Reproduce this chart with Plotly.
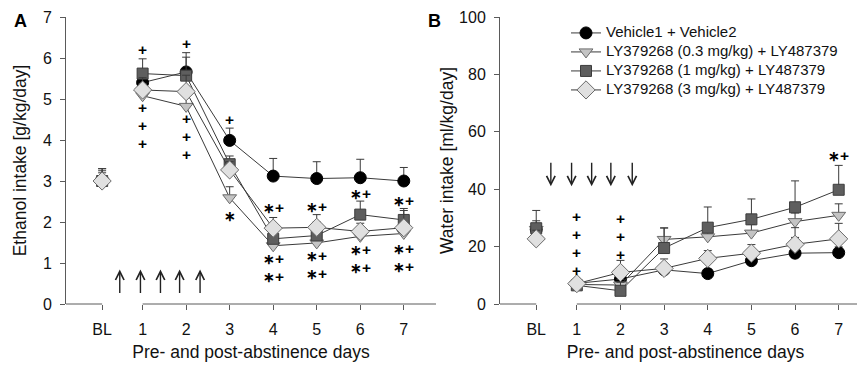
import plotly.graph_objects as go

# ---------------- data ----------------
day_labels = ["BL", "1", "2", "3", "4", "5", "6", "7"]
series_names = ["Vehicle1 + Vehicle2",
                "LY379268 (0.3 mg/kg) + LY487379",
                "LY379268 (1 mg/kg) + LY487379",
                "LY379268 (3 mg/kg) + LY487379"]

# Panel A: ethanol intake [g/kg/day] (BL, days 1-7)
eth_veh = [3.00, 5.40, 5.66, 3.99, 3.12, 3.06, 3.08, 3.00]
eth_low = [3.00, 5.08, 4.82, 2.59, 1.42, 1.49, 1.65, 1.72]
eth_mid = [3.00, 5.62, 5.57, 3.41, 1.59, 1.67, 2.18, 2.05]
eth_high = [3.00, 5.22, 5.18, 3.27, 1.85, 1.87, 1.77, 1.86]
eth_veh_sem = [0.30, 0.30, 0.47, 0.30, 0.43, 0.41, 0.45, 0.33]
eth_low_sem = [0.30, 0.30, 0.30, 0.27, 0.20, 0.20, 0.20, 0.20]
eth_mid_sem = [0.25, 0.36, 0.45, 0.20, 0.30, 0.33, 0.33, 0.28]
eth_high_sem = [0.20, 0.30, 0.40, 0.20, 0.26, 0.31, 0.20, 0.42]

# Panel B: water intake [ml/kg/day]
wat_veh = [26.0, 7.2, 8.7, 11.9, 10.6, 15.1, 17.7, 17.9]
wat_low = [26.0, 6.8, 6.6, 22.5, 23.4, 24.7, 28.7, 30.9]
wat_mid = [26.4, 6.5, 4.6, 19.5, 26.6, 29.5, 33.7, 39.8]
wat_high = [22.7, 7.1, 11.0, 12.4, 15.9, 17.7, 20.8, 22.7]
wat_veh_sem = [2.0, 1.0, 3.0, 2.0, 1.5, 2.0, 5.5, 2.0]
wat_low_sem = [3.0, 1.0, 2.0, 4.0, 3.0, 3.0, 3.0, 4.0]
wat_mid_sem = [6.2, 1.0, 3.0, 7.0, 7.2, 7.1, 9.2, 8.5]
wat_high_sem = [3.0, 1.0, 4.2, 3.3, 2.7, 3.0, 5.8, 5.4]

# significance marks: day, y values of a vertical stack, mark text
sig_a_days = [1, 1, 2, 2, 3, 3, 4, 4, 5, 5, 6, 6, 7, 7]
sig_a_vals = [[6.20], [4.69, 4.34, 4.03], [6.36], [4.40, 4.08, 3.75], [4.50], [2.14],
              [2.35], [1.08, 0.72], [2.38], [1.14, 0.78], [2.70], [1.28, 0.92],
              [2.53], [1.33, 0.96]]
sig_a_text = ["+", "+", "+", "+", "+", "*", "*+", "*+", "*+", "*+", "*+", "*+", "*+", "*+"]
sig_b_days = [1, 2, 7]
sig_b_vals = [[28.1, 23.5, 18.8, 14.0], [28.1, 23.5, 18.8], [51.6]]
sig_b_text = ["+", "+", "*+"]

# injection arrows (positions along the day axis)
arrows_a = [0.475, 0.95, 1.41, 1.85, 2.32]
arrows_b = [0.405, 0.88, 1.34, 1.78, 2.27]

# ---------------- style ----------------
FONT = "Liberation Sans, Arial, sans-serif"
AXC = "#5a5a5a"
LINEC = "#3a3a3a"
BL_POS = 0.07
XRANGE = [-0.76, 7.74]
xpos = [BL_POS] + [int(d) for d in day_labels[1:]]

styles = [
    dict(symbol="circle", size=12, color="#000000", line=dict(color="#000000", width=1)),
    dict(symbol="triangle-down", size=12, color="#c4c4c4", line=dict(color="#6a6a6a", width=1)),
    dict(symbol="square", size=11, color="#5e5e5e", line=dict(color="#3c3c3c", width=1)),
    dict(symbol="diamond", size=14, color="#e0e0e0", line=dict(color="#6a6a6a", width=1)),
]

fig = go.Figure()


def add_panel(vals_list, sem_list, xa, ya, legend):
    for i, (vals, sem) in enumerate(zip(vals_list, sem_list)):
        eb = dict(type="data", symmetric=False, color=LINEC, thickness=1, width=4)
        # baseline point (not connected)
        fig.add_trace(go.Scatter(
            x=[xpos[0]], y=[vals[0]], mode="markers", marker=styles[i],
            error_y=dict(eb, array=[sem[0]], arrayminus=[0]),
            xaxis=xa, yaxis=ya, showlegend=False, hoverinfo="skip"))
        fig.add_trace(go.Scatter(
            x=xpos[1:], y=vals[1:], mode="lines+markers", marker=styles[i],
            line=dict(color=LINEC, width=1),
            error_y=dict(eb, array=sem[1:], arrayminus=[0] * 7),
            name="<span style='font-size:15px'>%s</span>" % series_names[i],
            xaxis=xa, yaxis=ya, showlegend=legend))


add_panel([eth_veh, eth_low, eth_mid, eth_high],
          [eth_veh_sem, eth_low_sem, eth_mid_sem, eth_high_sem], "x", "y", False)
add_panel([wat_veh, wat_low, wat_mid, wat_high],
          [wat_veh_sem, wat_low_sem, wat_mid_sem, wat_high_sem], "x2", "y2", True)


def sig_line(t):
    out = ""
    for ch in t:
        if ch == "*":
            out += "<span style='font-size:14px'><b>∗</b></span>"
        else:
            out += "<span style='font-size:15.5px'><b>+</b></span>"
    return out


annotations = []
for xr, yr, days, stacks, texts in (("x", "y", sig_a_days, sig_a_vals, sig_a_text),
                                    ("x2", "y2", sig_b_days, sig_b_vals, sig_b_text)):
    for d, vals, t in zip(days, stacks, texts):
        annotations.append(dict(x=d, y=sum(vals) / len(vals), xref=xr, yref=yr,
                                text="<br>".join([sig_line(t)] * len(vals)), showarrow=False,
                                font=dict(family=FONT, size=13.8, color="#000000")))
for a in arrows_a:
    annotations.append(dict(x=a, y=0.84, ax=a, ay=0.23, xref="x", yref="y", axref="x", ayref="y",
                            text="", showarrow=True, arrowhead=5, arrowsize=1.2, arrowwidth=1.4,
                            arrowcolor="#222222"))
for a in arrows_b:
    annotations.append(dict(x=a, y=41.0, ax=a, ay=49.7, xref="x2", yref="y2", axref="x2", ayref="y2",
                            text="", showarrow=True, arrowhead=5, arrowsize=1.2, arrowwidth=1.4,
                            arrowcolor="#222222"))
# panel letters
annotations.append(dict(x=(12 - 58) / 805, y=1 - (13 - 9) / 287, xref="paper", yref="paper",
                        text="<b>A</b>", showarrow=False, xanchor="center", yanchor="middle",
                        font=dict(family=FONT, size=18, color="#000000")))
annotations.append(dict(x=(426 - 58) / 805, y=1 - (13 - 9) / 287, xref="paper", yref="paper",
                        text="<b>B</b>", showarrow=False, xanchor="center", yanchor="middle",
                        font=dict(family=FONT, size=18, color="#000000")))

# broken x-axis lines
shapes = []
for xr, yr in (("x", "y domain"), ("x2", "y2 domain")):
    shapes.append(dict(type="line", xref=xr, yref=yr, x0=XRANGE[0], x1=BL_POS, y0=0, y1=0,
                       line=dict(color=AXC, width=1)))
    shapes.append(dict(type="line", xref=xr, yref=yr, x0=1, x1=XRANGE[1], y0=0, y1=0,
                       line=dict(color=AXC, width=1)))

xcommon = dict(range=XRANGE, tickvals=xpos, ticktext=day_labels, ticks="outside", ticklen=5,
               tickcolor=AXC, showline=False, showgrid=False, zeroline=False,
               tickfont=dict(family=FONT, size=16, color="#111111"), ticklabelstandoff=6,
               title=dict(text="Pre- and post-abstinence days", standoff=8,
                          font=dict(family=FONT, size=17.5, color="#111111")))
ycommon = dict(ticks="outside", ticklen=5, tickcolor=AXC, showline=True, linecolor=AXC,
               showgrid=False, zeroline=False, ticklabelstandoff=5,
               tickfont=dict(family=FONT, size=16, color="#111111"))

fig.update_layout(
    width=865, height=371,
    margin=dict(l=58, r=2, t=9, b=75),
    plot_bgcolor="white", paper_bgcolor="white",
    font=dict(family=FONT, color="#111111"),
    xaxis=dict(xcommon, domain=[0, (428 - 58) / 805], anchor="y"),
    yaxis=dict(ycommon, range=[0, 7], dtick=1, anchor="x",
               title=dict(text="Ethanol intake [g/kg/day]", standoff=11,
                          font=dict(family=FONT, size=17.5, color="#111111"))),
    xaxis2=dict(xcommon, domain=[(492 - 58) / 805, 1], anchor="y2"),
    yaxis2=dict(ycommon, range=[0, 100], dtick=20, anchor="x2",
                title=dict(text="Water intake [ml/kg/day]", standoff=0,
                           font=dict(family=FONT, size=17.5, color="#111111"))),
    legend=dict(x=(558 - 58) / 805, y=0.995, xanchor="left", yanchor="top",
                bgcolor="rgba(0,0,0,0)", itemwidth=30,
                font=dict(family=FONT, size=11, color="#111111")),
    annotations=annotations,
    shapes=shapes,
    showlegend=True,
)

fig.write_html("out.html")
